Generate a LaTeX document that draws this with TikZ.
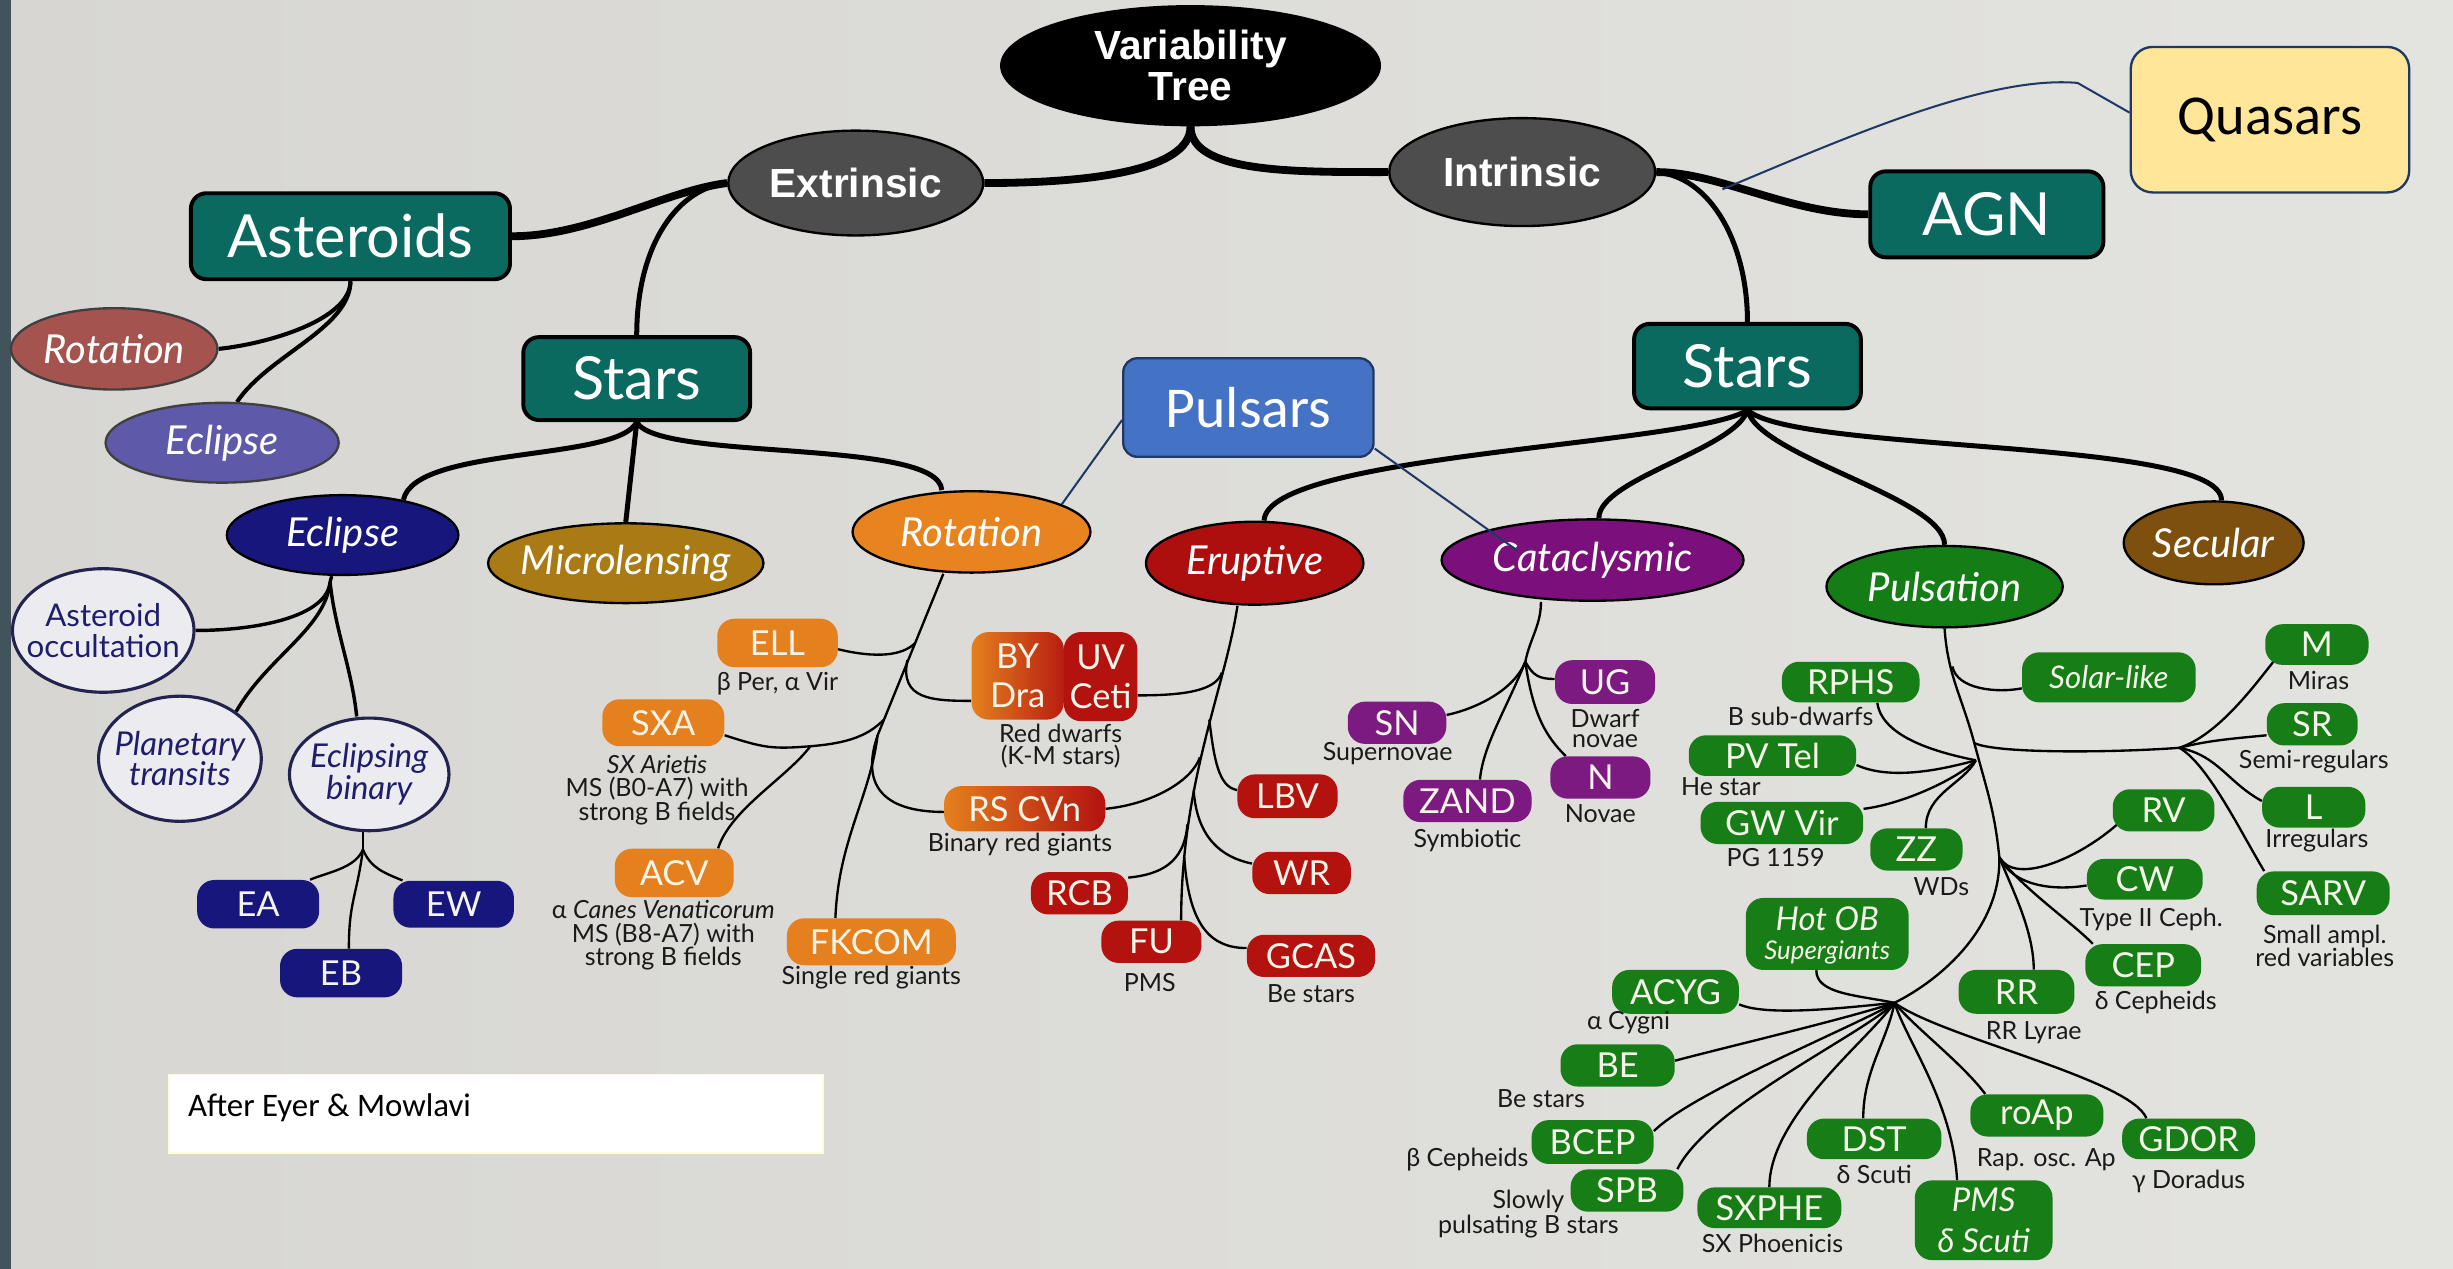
\documentclass[tikz,border=0pt]{standalone}
\usepackage{fontspec}
\usetikzlibrary{shapes.geometric}
\newfontfamily\lato{Lato}
\newfontfamily\carl{Carlito}
\newfontfamily\libs{Liberation Sans}
\definecolor{bgA}{HTML}{D7D6D2}
\definecolor{bgB}{HTML}{E3E3E0}
\definecolor{stripc}{HTML}{41545C}
\definecolor{tealc}{HTML}{0B6A60}
\definecolor{greyc}{HTML}{4D4D4D}
\definecolor{astrotc}{HTML}{A5534F}
\definecolor{asteclc}{HTML}{5E59A8}
\definecolor{navyc}{HTML}{16167C}
\definecolor{occfill}{HTML}{ECECF0}
\definecolor{occline}{HTML}{23234F}
\definecolor{occtext}{HTML}{1E1E6C}
\definecolor{microc}{HTML}{AA7B14}
\definecolor{rotc}{HTML}{E88420}
\definecolor{orleaf}{HTML}{E4801E}
\definecolor{eruc}{HTML}{AD0F0F}
\definecolor{redleaf}{HTML}{B3120F}
\definecolor{catc}{HTML}{7B0F7B}
\definecolor{purleaf}{HTML}{7C1A82}
\definecolor{pulc}{HTML}{157D15}
\definecolor{grleaf}{HTML}{177D17}
\definecolor{secc}{HTML}{7D500D}
\definecolor{leaftext}{HTML}{F4F4E8}
\definecolor{pulsarc}{HTML}{4472C4}
\definecolor{quasarc}{HTML}{FFE699}
\definecolor{linkc}{HTML}{203864}
\definecolor{captc}{HTML}{1A1A1A}
\pgfdeclarelayer{back}
\pgfdeclarelayer{lines}
\pgfsetlayers{back,lines,main}
\tikzset{
 ellshape/.style={ellipse, draw=black, line width=1.5pt, inner sep=0pt},
 ellabel/.style={inner sep=0pt, text=white, font=\lato\itshape\fontsize{25.5}{26}\selectfont},
 boldlabel/.style={inner sep=0pt, text=white, align=center, font=\libs\bfseries\fontsize{26}{26}\selectfont},
 tealbox/.style={rectangle, rounded corners=10pt, draw=black, line width=2.5pt, fill=tealc, text=white, inner sep=0pt, font=\lato\fontsize{38}{40}\selectfont},
 leafbox/.style={rectangle, rounded corners=11pt, inner sep=0pt, text=leaftext, align=center, font=\lato\fontsize{22}{25}\selectfont},
 orl/.style={leafbox, fill=orleaf},
 redl/.style={leafbox, fill=redleaf},
 purl/.style={leafbox, fill=purleaf},
 grl/.style={leafbox, fill=grleaf},
 navl/.style={leafbox, fill=navyc},
 captext/.style={inner sep=0pt, text=captc, align=center, font=\lato\fontsize{16}{15}\selectfont},
 subell/.style={ellipse, draw=occline, line width=2pt, fill=occfill, inner sep=0pt},
 sublabel/.style={inner sep=0pt, text=occtext, align=center},
 conA/.style={line width=5pt},
 conB/.style={line width=3.2pt},
 conC/.style={line width=2.6pt},
 conD/.style={line width=1.5pt},
 linkline/.style={draw=linkc, line width=1.3pt},
}
\begin{document}
\begin{tikzpicture}[x=1pt,y=-1pt]
\begin{pgfonlayer}{back}
\shade[left color=bgA, right color=bgB] (0,0) rectangle (1568,811);
\fill[stripc] (0,0) rectangle (7,811);
\end{pgfonlayer}
\useasboundingbox (0,0) rectangle (1568,811);

% ---------- top level ----------
\node[ellshape, fill=black, minimum width=242pt, minimum height=76pt] (vt) at (761,42) {};
\node[boldlabel] (vtT) at (vt) {Variability\\Tree};
\node[ellshape, fill=greyc, minimum width=163pt, minimum height=67pt] (ext) at (547,117) {};
\node[boldlabel] (extT) at (ext) {Extrinsic};
\node[ellshape, fill=greyc, minimum width=170pt, minimum height=69pt] (int) at (973,110) {};
\node[boldlabel] (intT) at (int) {Intrinsic};

\node[tealbox, minimum width=204pt, minimum height=55pt] (ast) at (224,151) {Asteroids};
\node[tealbox, minimum width=145pt, minimum height=53pt] (starsL) at (407,242) {Stars};
\node[tealbox, minimum width=149pt, minimum height=55pt] (agn) at (1270,137) {AGN};
\node[tealbox, minimum width=145pt, minimum height=54pt] (starsR) at (1117,234) {Stars};

% asteroid children
\node[ellshape, draw=black!75, fill=astrotc, minimum width=132pt, minimum height=52pt] (astRot) at (73,223) {};
\node[ellabel] (astRotT) at (astRot) {Rotation};
\node[ellshape, draw=black!75, fill=asteclc, minimum width=149pt, minimum height=51pt] (astEcl) at (142,283) {};
\node[ellabel] (astEclT) at (astEcl) {Eclipse};

% star categories (extrinsic)
\node[ellshape, fill=navyc, minimum width=148pt, minimum height=51pt] (eclipse) at (219,342) {};
\node[ellabel] (eclipseT) at (eclipse) {Eclipse};
\node[ellshape, fill=microc, minimum width=176pt, minimum height=51pt] (micro) at (400,360) {};
\node[ellabel] (microT) at (micro) {Microlensing};
\node[ellshape, fill=rotc, minimum width=152pt, minimum height=52pt] (rot) at (621,340) {};
\node[ellabel] (rotT) at (rot) {Rotation};

% star categories (intrinsic)
\node[ellshape, fill=eruc, minimum width=139pt, minimum height=53pt] (eru) at (802,360) {};
\node[ellabel] (eruT) at (eru) {Eruptive};
\node[ellshape, fill=catc, minimum width=193pt, minimum height=52pt] (cat) at (1018,358) {};
\node[ellabel] (catT) at (cat) {Cataclysmic};
\node[ellshape, fill=pulc, minimum width=151pt, minimum height=52pt] (pul) at (1243,375) {};
\node[ellabel] (pulT) at (pul) {Pulsation};
\node[ellshape, fill=secc, minimum width=115pt, minimum height=53pt] (sec) at (1415,347) {};
\node[ellabel] (secT) at (sec) {Secular};

% eclipse children
\node[subell, minimum width=116pt, minimum height=79pt] (occ) at (66,403) {};
\node[sublabel, font=\lato\fontsize{20}{20}\selectfont] (occT) at (occ) {Asteroid\\occultation};
\node[subell, minimum width=104pt, minimum height=80pt] (plan) at (115,485) {};
\node[sublabel, font=\lato\itshape\fontsize{21}{19}\selectfont] (planT) at (plan) {Planetary\\transits};
\node[subell, minimum width=102pt, minimum height=72pt] (ebin) at (236,495) {};
\node[sublabel, font=\lato\itshape\fontsize{21}{19}\selectfont] (ebinT) at (ebin) {Eclipsing\\binary};
\node[navl, minimum width=78pt, minimum height=31pt] (ea) at (165,578) {EA};
\node[navl, minimum width=77pt, minimum height=30pt] (ew) at (290,578) {EW};
\node[navl, minimum width=78pt, minimum height=31pt] (eb) at (218,622) {EB};

% rotation children
\node[orl, minimum width=77pt, minimum height=31pt] (ell) at (497,411) {ELL};
\node[captext] (ellC) at (497,437) {β Per, α Vir};
\node[orl, minimum width=78pt, minimum height=30pt] (sxa) at (424,462) {SXA};
\node[captext] (sxaC) at (420,505) {\textit{SX Arietis}\\MS (B0-A7) with\\strong B fields};
\node[orl, minimum width=76pt, minimum height=31pt] (acv) at (431,558) {ACV};
\node[captext] (acvC) at (424,598) {α \textit{Canes Venaticorum}\\MS (B8-A7) with\\strong B fields};
\node[orl, minimum width=108pt, minimum height=30pt] (fkcom) at (557,602) {FKCOM};
\node[captext] (fkcomC) at (557,625) {Single red giants};
\node[leafbox, left color=orleaf, right color=redleaf, minimum width=103pt, minimum height=29pt] (rscvn) at (655,517) {RS CVn};
\node[captext] (rscvnC) at (652,540) {Binary red giants};
\node[leafbox, left color=orleaf, right color=redleaf!90!orleaf, minimum width=59pt, minimum height=56pt] (bydra) at (650.5,432) {BY\\Dra};
\node[redl, minimum width=47pt, minimum height=57pt] (uvceti) at (703.5,432.5) {UV\\Ceti};
\node[captext, font=\lato\fontsize{16}{14}\selectfont] (rdC) at (678,477) {Red dwarfs\\(K-M stars)};

% eruptive children
\node[redl, minimum width=64pt, minimum height=28pt] (lbv) at (823,509) {LBV};
\node[redl, minimum width=63pt, minimum height=27pt] (wr) at (832,558) {WR};
\node[redl, minimum width=62pt, minimum height=27pt] (rcb) at (690,571) {RCB};
\node[redl, minimum width=64pt, minimum height=27pt] (fu) at (736,602) {FU};
\node[captext] (fuC) at (735,628) {PMS};
\node[redl, minimum width=82pt, minimum height=27pt] (gcas) at (838,611) {GCAS};
\node[captext] (gcasC) at (838,635) {Be stars};

% cataclysmic children
\node[purl, minimum width=64pt, minimum height=28pt] (ug) at (1026,436) {UG};
\node[captext] (ugC1) at (1026,459) {Dwarf};
\node[captext] (ugC2) at (1026,474) {novae};
\node[purl, minimum width=64pt, minimum height=27pt] (n) at (1023,497) {N};
\node[captext] (nC) at (1023,520) {Novae};
\node[purl, minimum width=63pt, minimum height=27pt] (sn) at (893,462) {SN};
\node[captext] (snC) at (887,482) {Supernovae};
\node[purl, minimum width=82pt, minimum height=27pt] (zand) at (938,512) {ZAND};
\node[captext] (zandC) at (938,537) {Symbiotic};

% pulsation children
\node[grl, minimum width=88pt, minimum height=26pt] (rphs) at (1183,436) {RPHS};
\node[captext] (rphsC) at (1151,458) {B sub-dwarfs};
\node[grl, minimum width=111pt, minimum height=32pt, font=\lato\itshape\fontsize{20}{22}\selectfont] (solar) at (1348,433) {Solar-like};
\node[grl, minimum width=107pt, minimum height=26pt] (pvtel) at (1133,483) {PV Tel};
\node[captext] (pvtelC) at (1100,503) {He star};
\node[grl, minimum width=104pt, minimum height=27pt] (gwvir) at (1139,526) {GW Vir};
\node[captext] (gwvirC) at (1135,548) {PG 1159};
\node[grl, minimum width=59pt, minimum height=27pt] (zz) at (1225,543) {ZZ};
\node[captext] (zzC) at (1241,567) {WDs};
\node[grl, minimum width=66pt, minimum height=26pt] (m) at (1481,412) {M};
\node[captext] (mC) at (1482,435) {Miras};
\node[grl, minimum width=58pt, minimum height=27pt] (sr) at (1478,463) {SR};
\node[captext] (srC) at (1479,487) {Semi-regulars};
\node[grl, minimum width=66pt, minimum height=26pt] (l) at (1479,516) {L};
\node[captext] (lC) at (1481,537) {Irregulars};
\node[grl, minimum width=85pt, minimum height=28pt] (sarv) at (1485,571) {SARV};
\node[captext] (sarvC) at (1486,604.5) {Small ampl.\\red variables};
\node[grl, minimum width=65pt, minimum height=27pt] (rv) at (1383,518) {RV};
\node[grl, minimum width=74pt, minimum height=26pt] (cw) at (1371,562) {CW};
\node[captext] (cwC) at (1375,588) {Type II Ceph.};
\node[grl, minimum width=74pt, minimum height=27pt] (cep) at (1370,617) {CEP};
\node[captext] (cepC) at (1378,641) {δ Cepheids};
\node[grl, minimum width=74pt, minimum height=28pt] (rr) at (1289,634) {RR};
\node[captext] (rrC) at (1300,660) {RR Lyrae};
\node[grl, minimum width=104pt, minimum height=46pt] (hotob) at (1168,597) {};
\node[inner sep=0pt, text=leaftext, font=\lato\itshape\fontsize{21}{21}\selectfont] (hotobT1) at (1168,587) {Hot OB};
\node[inner sep=0pt, text=leaftext, font=\lato\itshape\fontsize{16.5}{17}\selectfont] (hotobT2) at (1168,609) {Supergiants};
\node[grl, minimum width=81pt, minimum height=28pt] (acyg) at (1071,634) {ACYG};
\node[captext] (acygC) at (1041,654) {α Cygni};
\node[grl, minimum width=73pt, minimum height=27pt] (be) at (1034,681) {BE};
\node[captext] (beC) at (985,702) {Be stars};
\node[grl, minimum width=78pt, minimum height=28pt] (bcep) at (1018,730) {BCEP};
\node[captext] (bcepC) at (938,741) {β Cepheids};
\node[grl, minimum width=72pt, minimum height=27pt] (spb) at (1040,761) {SPB};
\node[captext, font=\lato\fontsize{16}{13.5}\selectfont] (spbC) at (977,776) {Slowly\\pulsating B stars};
\node[grl, minimum width=92pt, minimum height=26pt] (sxphe) at (1131,772) {SXPHE};
\node[captext] (sxpheC) at (1133,795) {SX Phoenicis};
\node[grl, minimum width=86pt, minimum height=26pt] (dst) at (1198,728) {DST};
\node[captext] (dstC) at (1198,751) {δ Scuti};
\node[grl, minimum width=88pt, minimum height=51pt, font=\lato\itshape\fontsize{21}{26}\selectfont] (pms) at (1268,780) {PMS\\δ Scuti};
\node[grl, minimum width=85pt, minimum height=27pt] (roap) at (1302,713) {roAp};
\node[captext] (roapC) at (1308,741) {Rap. osc. Ap};
\node[grl, minimum width=85pt, minimum height=26pt] (gdor) at (1399,728) {GDOR};
\node[captext] (gdorC) at (1399,755) {γ Doradus};

% annotations
\node[rectangle, rounded corners=9pt, fill=pulsarc, draw=linkc, line width=1.5pt, minimum width=160pt, minimum height=63pt, inner sep=0pt, text=white, font=\carl\fontsize{37}{40}\selectfont] (pulsars) at (798,260.5) {Pulsars};
\node[rectangle, rounded corners=14pt, fill=quasarc, draw=linkc, line width=1.5pt, minimum width=178pt, minimum height=93pt, inner sep=0pt, text=black, font=\carl\fontsize{36}{40}\selectfont] (quasars) at (1451,76.5) {Quasars};
\node[rectangle, fill=white, draw=yellow!15!white, line width=0.8pt, minimum width=418pt, minimum height=50pt, inner sep=0pt] (after) at (317,712) {};
\node[anchor=west, inner sep=0pt, font=\carl\fontsize{21}{22}\selectfont] (afterT) at (120,708) {After Eyer \& Mowlavi};

\coordinate (qEnd) at (1101,121);

% ---------- connectors ----------
\begin{pgfonlayer}{lines}
\draw[conA] (vt.south) .. controls +(0,30) and +(60,0) .. (ext.east);
\draw[conA] (vt.south) .. controls +(0,30) and +(-60,0) .. (int.west);
\draw[conA] (ext.west) .. controls +(-40,5) and +(50,0) .. (ast.east);
\draw[conB] (ext.west) .. controls +(-30,3) and +(0,-60) .. (starsL.north);
\draw[conA] (int.east) .. controls +(40,0) and +(-50,0) .. (agn.west);
\draw[conB] (int.east) .. controls +(35,3) and +(0,-50) .. (starsR.north);

\draw[conC] (ast.south) .. controls +(0,25) and +(30,-3) .. (astRot.east);
\draw[conC] (ast.south) .. controls +(0,30) and +(20,-30) .. (astEcl.70);

\draw[conB] (starsL.south) .. controls (395,295) and (265,285) .. (eclipse.30);
\draw[conB] (starsL.south) -- (micro.north);
\draw[conB] (starsL.south) .. controls (420,295) and (600,280) .. ([xshift=-19]rot.north);

\draw[conB] (starsR.south) .. controls (1080,285) and (810,290) .. ([xshift=6]eru.north);
\draw[conB] (starsR.south) .. controls +(-8,25) and +(0,-25) .. ([xshift=4]cat.north);
\draw[conB] (starsR.south) .. controls +(8,30) and +(0,-30) .. (pul.north);
\draw[conB] (starsR.south) .. controls (1150,290) and (1420,280) .. ([xshift=5]sec.north);

% eclipse subtree
\coordinate (jE) at (211,372);
\draw[conD, line width=2.2pt] ([xshift=-7]eclipse.south) -- (jE);
\draw[conD, line width=2.2pt] (jE) .. controls +(-2,22) and +(40,0) .. (occ.east);
\draw[conD, line width=2.2pt] (jE) .. controls +(-3,30) and +(20,-35) .. (plan.40);
\draw[conD, line width=2.2pt] (jE) .. controls +(3,30) and +(-3,-30) .. ([xshift=-8]ebin.north);
\coordinate (jB) at (232,543);
\draw[conD] ([xshift=-4]ebin.south) -- (jB);
\draw[conD] (jB) .. controls +(-5,12) and +(12,-5) .. ([xshift=-6]ea.north east);
\draw[conD] (jB) .. controls +(-4,30) and +(0,-30) .. ([xshift=5]eb.north);
\draw[conD] (jB) .. controls +(5,12) and +(-12,-5) .. ([xshift=6]ew.north west);

% rotation subtree
\coordinate (tR1) at (585,411);
\coordinate (tR2) at (580,422);
\coordinate (tR3) at (565,460);
\coordinate (tR4) at (561,470);
\coordinate (jSX) at (518,477);
\draw[conD] ([xshift=-18]rot.south) -- (tR4);
\draw[conD] (tR4) .. controls +(-5,40) and +(2,-50) .. ([xshift=-23]fkcom.north);
\draw[conD] ([yshift=-4]ell.east) .. controls +(25,6) and +(-8,8) .. (tR1);
\draw[conD] (tR2) .. controls +(-5,25) and +(-25,0) .. ([yshift=-16]bydra.west);
\draw[conD] ([yshift=-8]sxa.east) .. controls +(25,8) and +(-25,2) .. (jSX) .. controls +(25,-2) and +(-10,10) .. (tR3);
\draw[conD] (jSX) .. controls +(-15,20) and +(8,-25) .. ([xshift=28]acv.north);
\draw[conD] (tR4) .. controls +(-12,35) and +(-35,0) .. ([yshift=-2]rscvn.west);

% eruptive subtree
\coordinate (tE1) at (781,430);
\coordinate (tE2) at (773,460);
\coordinate (tE3) at (767,484);
\coordinate (tE4) at (763,505);
\coordinate (tE5) at (759,527);
\coordinate (tE6) at (757,548);
\draw[conD] ([xshift=-11]eru.south) .. controls (783,440) and (755,500) .. ([xshift=19]fu.north);
\draw[conD] ([yshift=-12]uvceti.east) .. controls +(28,0) and +(-4,12) .. (tE1);
\draw[conD] (tE2) .. controls +(3,25) and +(-12,-2) .. ([yshift=4]lbv.west);
\draw[conD] (rscvn.east) .. controls +(30,-3) and +(-5,15) .. (tE3);
\draw[conD] (tE4) .. controls +(2,30) and +(-20,-4) .. ([yshift=6]wr.west);
\draw[conD] (tE5) .. controls +(-2,25) and +(20,-2) .. ([yshift=10]rcb.east);
\draw[conD] (tE6) .. controls +(3,45) and +(-22,0) .. ([yshift=5]gcas.west);

% cataclysmic subtree
\coordinate (jC) at (975,423);
\draw[conD] ([xshift=-33]cat.south) .. controls +(0,15) and +(3,-15) .. (jC);
\draw[conD] (jC) .. controls +(5,9) and +(-10,0) .. ([yshift=2]ug.west);
\draw[conD] (jC) .. controls +(5,35) and +(-12,-12) .. ([xshift=10]n.north west);
\draw[conD] (jC) .. controls +(-8,20) and +(15,-3) .. ([yshift=5]sn.east);
\draw[conD] (jC) .. controls +(-12,30) and +(2,-22) .. ([xshift=8]zand.north);

% pulsation subtree
\coordinate (jSol) at (1248,426);
\coordinate (J1) at (1262,475);
\coordinate (J0) at (1263,486);
\coordinate (J2) at (1278,548);
\coordinate (J3) at (1211,641);
\coordinate (J4) at (1393,478);
\draw[conD] (pul.south) .. controls +(2,30) and +(-8,-30) .. (J1) .. controls +(8,30) and +(-3,-30) .. (J2) .. controls +(1,45) and +(30,-15) .. (J3);
\draw[conD] (jSol) .. controls +(3,15) and +(-15,3) .. ([yshift=-7]solar.west);
\draw[conD] (J1) .. controls +(15,7) and +(-40,3) .. (J4);
\draw[conD] (J4) .. controls +(25,-8) and +(-12,15) .. ([xshift=6,yshift=3]m.south west);
\draw[conD] (J4) .. controls +(20,-5) and +(-20,2) .. ([yshift=-7]sr.west);
\draw[conD] (J4) .. controls +(25,5) and +(-22,-12) .. ([yshift=4]l.west);
\draw[conD] (J4) .. controls +(18,10) and +(-15,-25) .. ([xshift=5]sarv.north west);
\draw[conD] ([xshift=17]rphs.south) .. controls +(3,22) and +(-25,-5) .. (J0);
\draw[conD] ([yshift=-6]pvtel.east) .. controls +(22,10) and +(-22,6) .. (J0);
\draw[conD] ([yshift=9]gwvir.east) .. controls +(25,-3) and +(-12,12) .. (J0);
\draw[conD] ([xshift=6]zz.north) .. controls +(0,-22) and +(-8,15) .. (J0);
\draw[conD] (J2) .. controls +(10,18) and +(-25,22) .. ([xshift=3,yshift=-9]rv.west);
\draw[conD] (J2) .. controls +(10,20) and +(-18,3) .. ([yshift=-4]cw.west);
\draw[conD] (J2) .. controls +(15,20) and +(-15,-15) .. ([xshift=5]cep.north west);
\draw[conD] (J2) .. controls +(8,20) and +(0,-25) .. ([xshift=11]rr.north);
\draw[conD] ([xshift=-7]hotob.south) .. controls +(0,15) and +(-25,-5) .. (J3);
\draw[conD] ([yshift=-8]acyg.east) .. controls +(18,8) and +(-30,3) .. (J3);
\draw[conD] (J3) .. controls +(-30,10) and +(30,-8) .. ([yshift=3]be.east);
\draw[conD] (J3) .. controls +(-25,15) and +(25,-25) .. ([yshift=7]bcep.east);
\draw[conD] (J3) .. controls +(-20,20) and +(20,-40) .. ([xshift=-4]spb.north east);
\draw[conD] (J3) .. controls +(-18,25) and +(0,-45) .. (sxphe.north);
\draw[conD] (J3) .. controls +(-5,25) and +(0,-30) .. ([xshift=-7]dst.north);
\draw[conD] (J3) .. controls +(8,25) and +(-3,-50) .. ([xshift=-17]pms.north);
\draw[conD] (J3) .. controls +(12,15) and +(-15,-20) .. ([xshift=-33]roap.north);
\draw[conD] (J3) .. controls +(30,22) and +(-10,-25) .. ([xshift=-27]gdor.north);
\end{pgfonlayer}

% thin annotation links (drawn on top)
\draw[linkline] ([yshift=-8]pulsars.west) -- (rot.17);
\draw[linkline] ([yshift=6]pulsars.south east) -- ([xshift=-48,yshift=6]cat.center);
\draw[linkline] (qEnd) .. controls (1180,88) and (1270,48) .. (1328,53) -- ([yshift=4.5]quasars.west);
\end{tikzpicture}
\end{document}
